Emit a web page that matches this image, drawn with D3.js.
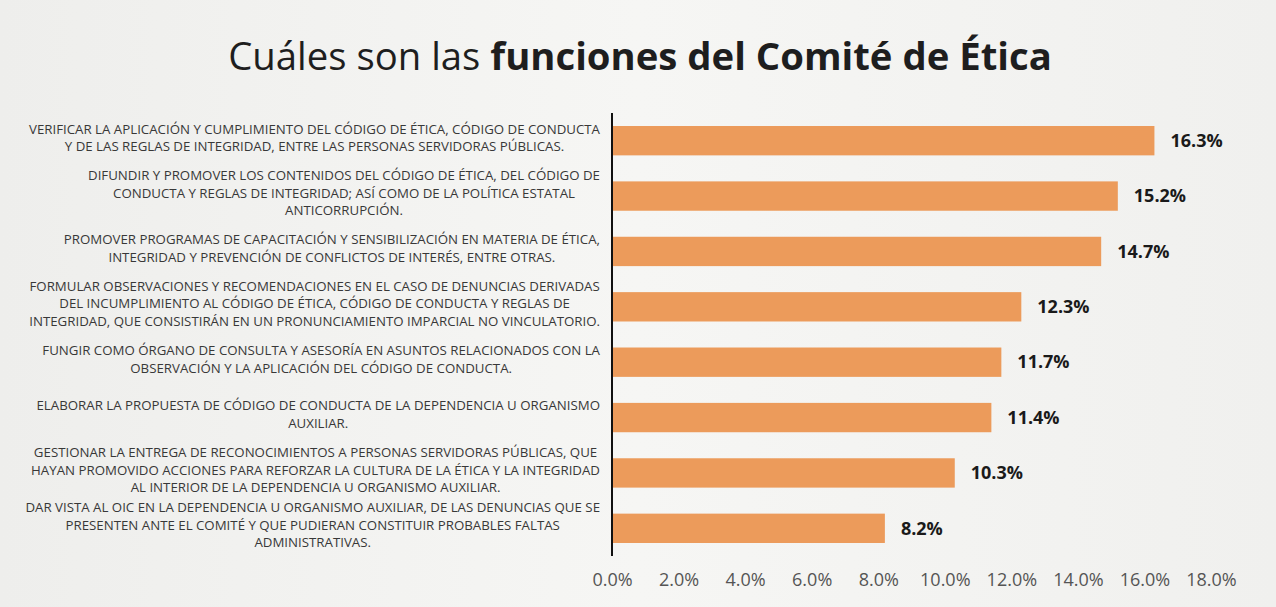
<!DOCTYPE html>
<html><head><meta charset="utf-8">
<script src="https://cdn.jsdelivr.net/npm/d3@7"></script>
<style>
html,body{margin:0;padding:0;background:#f1f1ef;}
svg{display:block;}
</style></head>
<body>
<svg id="chart" width="1276" height="607"></svg>
<script>
const categories = [
  ["VERIFICAR LA APLICACIÓN Y CUMPLIMIENTO DEL CÓDIGO DE ÉTICA, CÓDIGO DE CONDUCTA","Y DE LAS REGLAS DE INTEGRIDAD, ENTRE LAS PERSONAS SERVIDORAS PÚBLICAS."],
  ["DIFUNDIR Y PROMOVER LOS CONTENIDOS DEL CÓDIGO DE ÉTICA, DEL CÓDIGO DE","CONDUCTA Y REGLAS DE INTEGRIDAD; ASÍ COMO DE LA POLÍTICA ESTATAL","ANTICORRUPCIÓN."],
  ["PROMOVER PROGRAMAS DE CAPACITACIÓN Y SENSIBILIZACIÓN EN MATERIA DE ÉTICA,","INTEGRIDAD Y PREVENCIÓN DE CONFLICTOS DE INTERÉS, ENTRE OTRAS."],
  ["FORMULAR OBSERVACIONES Y RECOMENDACIONES EN EL CASO DE DENUNCIAS DERIVADAS","DEL INCUMPLIMIENTO AL CÓDIGO DE ÉTICA, CÓDIGO DE CONDUCTA Y REGLAS DE","INTEGRIDAD, QUE CONSISTIRÁN EN UN PRONUNCIAMIENTO IMPARCIAL NO VINCULATORIO."],
  ["FUNGIR COMO ÓRGANO DE CONSULTA Y ASESORÍA EN ASUNTOS RELACIONADOS CON LA","OBSERVACIÓN Y LA APLICACIÓN DEL CÓDIGO DE CONDUCTA."],
  ["ELABORAR LA  PROPUESTA DE CÓDIGO DE CONDUCTA DE LA DEPENDENCIA U ORGANISMO","AUXILIAR."],
  ["GESTIONAR LA ENTREGA DE RECONOCIMIENTOS A PERSONAS SERVIDORAS PÚBLICAS, QUE","HAYAN PROMOVIDO ACCIONES PARA REFORZAR LA CULTURA DE LA ÉTICA Y LA INTEGRIDAD","AL INTERIOR DE LA DEPENDENCIA U ORGANISMO AUXILIAR."],
  ["DAR VISTA AL OIC EN LA DEPENDENCIA U ORGANISMO AUXILIAR, DE LAS DENUNCIAS QUE SE","PRESENTEN ANTE  EL COMITÉ Y QUE PUDIERAN CONSTITUIR PROBABLES FALTAS","ADMINISTRATIVAS."]
];
const values = [16.3, 15.2, 14.7, 12.3, 11.7, 11.4, 10.3, 8.2];
const tickValues = [0, 2, 4, 6, 8, 10, 12, 14, 16, 18];
const titleNormal = "Cuáles son las ";
const titleBold = "funciones del Comité de Ética";

const svg = d3.select("#chart");
const FONT = "'Open Sans', 'DejaVu Sans', sans-serif";

// background
const defs = svg.append("defs");
const grad = defs.append("linearGradient").attr("id","bg").attr("x1","0").attr("x2","1").attr("y1","0").attr("y2","0");
grad.append("stop").attr("offset","0").attr("stop-color","#eeeeec");
grad.append("stop").attr("offset","0.5").attr("stop-color","#f6f6f4");
grad.append("stop").attr("offset","1").attr("stop-color","#f0f0ee");
svg.append("rect").attr("width",1276).attr("height",607).attr("fill","url(#bg)");

// title
const title = svg.append("text").attr("x",640).attr("y",70).attr("text-anchor","middle")
  .attr("font-family",FONT).attr("font-size",36).attr("fill","#1e1e1e");
title.append("tspan").text(titleNormal);
title.append("tspan").attr("font-weight","bold").text(titleBold);
{
  const w = title.node().getComputedTextLength();
  title.attr("font-size", 36 * 824 / w);
}

const x = d3.scaleLinear().domain([0, 18]).range([612, 1211]);
const y = d3.scaleBand().domain(d3.range(values.length)).range([113, 556]).paddingInner(0.47).paddingOuter(0.235);

// bars
svg.append("g").selectAll("rect").data(values).join("rect")
  .attr("x", x(0)).attr("y", (d,i) => y(i))
  .attr("width", d => x(d) - x(0)).attr("height", y.bandwidth())
  .attr("fill", "#ec9b5b");

// value labels
svg.append("g").selectAll("text").data(values).join("text")
  .attr("x", d => x(d) + 16).attr("y", (d,i) => y(i) + y.bandwidth()/2)
  .attr("dy","0.35em").attr("font-family",FONT).attr("font-weight","bold")
  .attr("font-size",18).attr("fill","#1a1a1a")
  .text(d => d.toFixed(1) + "%");

// vertical axis line
svg.append("line").attr("x1",612).attr("x2",612).attr("y1",113).attr("y2",556)
  .attr("stroke","#111").attr("stroke-width",2);

// x axis tick labels
const xAxis = d3.axisBottom(x).tickValues(tickValues).tickSize(0).tickFormat(d => d.toFixed(1) + "%");
const gx = svg.append("g").attr("transform","translate(0,572)").call(xAxis);
gx.select(".domain").remove();
gx.selectAll("text").attr("font-family",FONT).attr("font-size",18).attr("fill","#555").attr("dy","0.6em");

// category labels
const LABEL_SIZE0 = 11;
const labelG = svg.append("g").attr("font-family",FONT).attr("fill","#383838");
const probe = labelG.append("text").attr("font-size",LABEL_SIZE0).text(categories[0][0]);
const lfs = LABEL_SIZE0 * 572 / probe.node().getComputedTextLength();
probe.remove();
const lineH = 17.5;
const rightEdge = 600;
categories.forEach((lines, i) => {
  const cy = y(i) + y.bandwidth()/2 - 3;
  const t = labelG.append("text").attr("font-size", lfs).attr("text-anchor","middle");
  const spans = lines.map((ln, j) => t.append("tspan").attr("y", cy + (j - (lines.length-1)/2) * lineH).attr("dy","0.35em").text(ln));
  const maxW = d3.max(spans, s => s.node().getComputedTextLength());
  spans.forEach(s => s.attr("x", rightEdge - maxW/2));
});
</script>
</body></html>
